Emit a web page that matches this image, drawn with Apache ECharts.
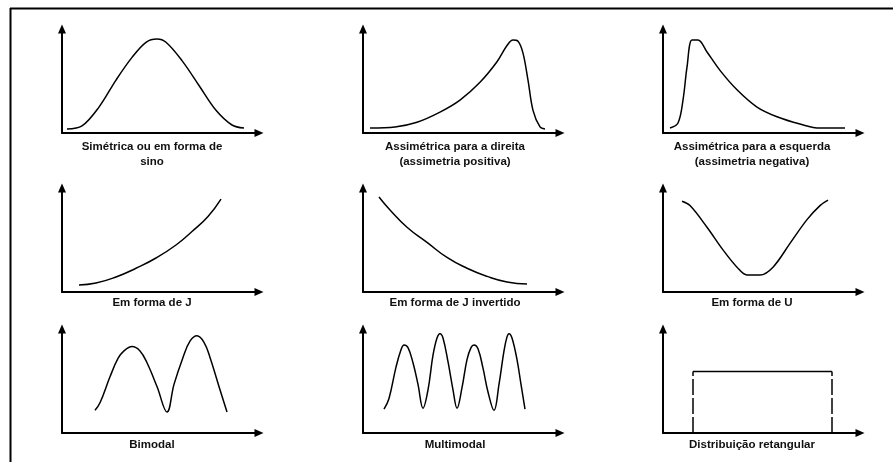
<!DOCTYPE html>
<html>
<head>
<meta charset="utf-8">
<script src="https://cdn.jsdelivr.net/npm/echarts@6/dist/echarts.min.js"></script>
<style>
html,body{margin:0;padding:0;background:#fff;}
#chart{width:893px;height:462px;}
</style>
</head>
<body>
<div id="chart"></div>
<script>
// ---- Data (x on 0..100, y on 0..100 per panel) ----
var simetrica = [[2.5,3.7],[10,6.5],[18.5,24],[27,49],[35,70],[42,84],[47.5,87],[52,84],[60,67],[68.5,44],[77,21],[85,7.4],[91,4.6]];
var assimDireita = [[3.5,4.6],[16,5.6],[27,10],[38.5,19.4],[48.5,30.5],[58.5,47],[67,66],[72,81],[75,86],[77.5,85],[80,74],[82.5,49],[85,21],[88.5,5.6],[91,3.7]];
var assimEsquerda = [[3.5,4.6],[7.5,9.3],[10,30.5],[12,61],[14.5,86],[17.5,86],[22,75],[28.5,58],[37,40],[47,24],[57,15],[68.5,8.3],[78.5,4.6],[91,4.6]];
var formaJ = [[8.5,6.5],[17,8.3],[27,13.9],[37,22],[47,31.5],[57,43.5],[65,56],[73,70],[79.5,86]];
var formaJInvertido = [[8,88],[13.5,76],[22,60],[32,46],[42,32],[52,22],[62,14.5],[72,9.3],[82,7.4]];
var formaU = [[9.5,84],[13.5,80],[22,60],[30,39],[37,23],[42,15.7],[48.5,15.7],[55,23],[63.5,45],[72,67],[78.5,80],[82.5,85]];
var bimodal = [[16.5,21],[19,28],[24,52],[28,69],[31,76],[35,80],[39,76],[42.5,65],[47.5,43],[52.5,19.4],[56,45],[60.5,70],[64,85],[67.5,90],[71,84],[74,70],[79,40],[82.5,19.4]];
var multimodal = [[10.5,22],[13,32],[16.5,61],[19,77],[20.5,81.5],[22.5,79],[25,65],[27.5,45],[30,23],[32.5,40],[35,72],[37,88],[38.5,92],[40,88],[42.5,66],[45,40],[47,23],[49.5,42],[52,68],[54,79],[55.5,81.5],[57.5,78],[60,60],[62.5,38],[65.5,21],[68,45],[70.5,76],[72,89],[73,92],[74.5,88],[77,68],[79,45],[81,22]];
var retangularTopo = [[15,57],[84.5,57]];
var retangularEsq = [[15,0],[15,57]];
var retangularDir = [[84.5,0],[84.5,57]];

var panelTitles = [
  ["Simétrica ou em forma de", "sino"],
  ["Assimétrica para a direita", "(assimetria positiva)"],
  ["Assimétrica para a esquerda", "(assimetria negativa)"],
  ["Em forma de J"],
  ["Em forma de J invertido"],
  ["Em forma de U"],
  ["Bimodal"],
  ["Multimodal"],
  ["Distribuição retangular"]
];

// ---- Layout ----
var colLeft = [62, 363, 663];
var rowBottom = [133, 292, 433];
var gridW = 197, gridH = 104;
var labelX = [152, 455, 752];
var labelY = [147, 303, 445];

var grids = [], xAxes = [], yAxes = [], series = [], graphics = [];
var axisLineStyle = {show:true, symbol:['none','triangle'], symbolSize:[8,9], lineStyle:{color:'#000', width:2}};

for (var r = 0; r < 3; r++) {
  for (var c = 0; c < 3; c++) {
    var i = r*3 + c;
    grids.push({left: colLeft[c], top: rowBottom[r]-gridH, width: gridW, height: gridH});
    xAxes.push({type:'value', gridIndex:i, min:0, max:gridW/2, axisLine:axisLineStyle, axisTick:{show:false}, axisLabel:{show:false}, splitLine:{show:false}});
    yAxes.push({type:'value', gridIndex:i, min:0, max:gridH/1.08, axisLine:axisLineStyle, axisTick:{show:false}, axisLabel:{show:false}, splitLine:{show:false}});
    var lines = panelTitles[i];
    for (var k = 0; k < lines.length; k++) {
      graphics.push({type:'text', x: labelX[c], y: labelY[r] + k*15, silent:true,
        style:{text: lines[k], textAlign:'center', textVerticalAlign:'middle', fill:'#111',
               font:'bold 11.5px "Liberation Sans", Arial, sans-serif'}});
    }
  }
}

var curveData = [simetrica, assimDireita, assimEsquerda, formaJ, formaJInvertido, formaU, bimodal, multimodal];
var smoothness = [0.35, 0.35, 0.35, 0.5, 0.5, 0.35, 0.4, 0.4];
curveData.forEach(function(d, i){
  series.push({type:'line', xAxisIndex:i, yAxisIndex:i, data:d, smooth:smoothness[i], showSymbol:false, silent:true,
    lineStyle:{color:'#000', width:1.5}});
});
series.push({type:'line', xAxisIndex:8, yAxisIndex:8, data:retangularTopo, showSymbol:false, silent:true, lineStyle:{color:'#000', width:1.5}});
series.push({type:'line', xAxisIndex:8, yAxisIndex:8, data:retangularEsq, showSymbol:false, silent:true, lineStyle:{color:'#000', width:1.5, type:[16,3]}});
series.push({type:'line', xAxisIndex:8, yAxisIndex:8, data:retangularDir, showSymbol:false, silent:true, lineStyle:{color:'#000', width:1.5, type:[16,3]}});

// frame lines (top and left)
graphics.push({type:'line', shape:{x1:10, y1:8.5, x2:893, y2:8.5}, style:{stroke:'#000', lineWidth:2}, silent:true});
graphics.push({type:'line', shape:{x1:10.5, y1:8, x2:10.5, y2:462}, style:{stroke:'#000', lineWidth:2}, silent:true});

var chart = echarts.init(document.getElementById('chart'), null, {renderer:'canvas'});
chart.setOption({
  animation:false,
  backgroundColor:'#fff',
  grid: grids,
  xAxis: xAxes,
  yAxis: yAxes,
  series: series,
  graphic: graphics
});
</script>
</body>
</html>
